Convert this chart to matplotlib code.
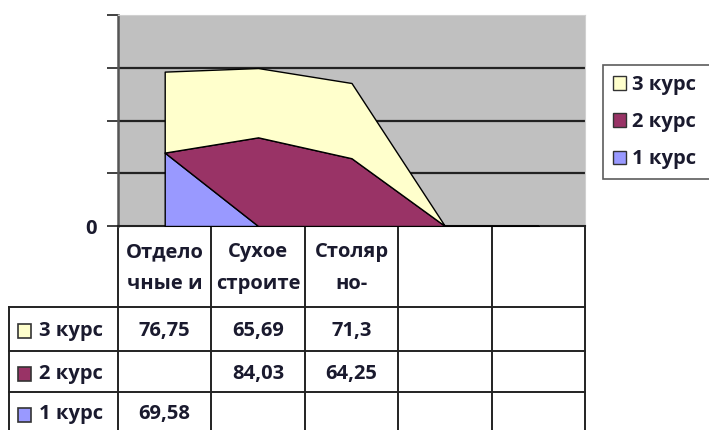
import matplotlib
matplotlib.use("Agg")
import matplotlib.pyplot as plt
from matplotlib.patches import Patch, Rectangle

# data
categories = ["Отдело\nчные и", "Сухое\nстроите", "Столяр\nно-", "", ""]
series_names = ["1 курс", "2 курс", "3 курс"]
kurs1 = [69.58, None, None, None, None]
kurs2 = [None, 84.03, 64.25, None, None]
kurs3 = [76.75, 65.69, 71.3, None, None]
colors = ["#9999FF", "#993366", "#FFFFCC"]

W, H = 709, 430
FONT = "Open Sans"
FS = 14.5
TXT_COLOR = "#1a1a2e"

def fmt(v):
    if v is None:
        return ""
    return f"{v:g}".replace(".", ",")

def main():
    fig = plt.figure(figsize=(W / 100, H / 100), dpi=100)

    # pixel layout of the chart area and table
    left, right = 118, 585
    top, zero = 15, 226
    ax = fig.add_axes([left / W, 1 - zero / H, (right - left) / W, (zero - top) / H])
    ax.set_facecolor("#C0C0C0")

    x = list(range(len(categories)))
    series = [kurs1, kurs2, kurs3]
    ys = [[0 if v is None else v for v in s] for s in series]
    ax.stackplot(x, ys, colors=colors, edgecolor="black", linewidth=1.0, zorder=3)

    ax.set_xlim(-0.5, len(categories) - 0.5)
    ax.set_ylim(0, 200)
    ax.set_yticks([0, 50, 100, 150, 200])
    ax.set_yticklabels(["0", "", "", "", ""], fontsize=FS, fontweight="bold",
                       fontfamily=FONT, color=TXT_COLOR)
    ax.tick_params(axis="y", direction="out", length=8, width=1.3, color="#333333", pad=7)
    ax.set_xticks([])
    for yv in [50, 100, 150]:
        ax.axhline(yv, color="#222222", linewidth=1.6, zorder=1)
    ax.spines["left"].set_color("#555555")
    ax.spines["left"].set_linewidth(1.8)
    for s in ["top", "right"]:
        ax.spines[s].set_color("#D0D0D0")
    ax.spines["bottom"].set_color("#222222")
    ax.spines["bottom"].set_linewidth(1.5)

    # data table under the chart, drawn in pixel coordinates
    t = fig.add_axes([0, 0, 1, 1], zorder=-1)
    t.set_xlim(0, W)
    t.set_ylim(H, 0)
    t.axis("off")

    n = len(categories)
    cw = (right - left) / n
    label_left = 9
    rows_y = [zero, 307, 351, 392, 433]
    lw = 1.4
    lc = "#222222"

    for i in range(n + 1):
        xx = left + i * cw
        t.plot([xx, xx], [zero, H], color=lc, lw=lw)
    t.plot([label_left, label_left], [rows_y[1], H], color=lc, lw=lw)
    for r in rows_y[1:]:
        t.plot([label_left, right], [r, r], color=lc, lw=lw)

    txt = dict(fontsize=FS, fontweight="bold", fontfamily=FONT, color=TXT_COLOR,
               ha="center", va="center")
    for i, c in enumerate(categories):
        t.text(left + (i + 0.5) * cw, 268, c, linespacing=1.75, **txt)

    order = [2, 1, 0]
    for k, si in enumerate(order):
        cy = (rows_y[k + 1] + rows_y[k + 2]) / 2 + 2
        t.add_patch(Rectangle((18, cy - 7), 13, 14, facecolor=colors[si],
                              edgecolor="#333333", lw=1.2))
        t.text(39, cy, series_names[si], fontsize=FS, fontweight="bold",
               fontfamily=FONT, color=TXT_COLOR, ha="left", va="center")
        for i, v in enumerate(series[si]):
            t.text(left + (i + 0.5) * cw, cy, fmt(v), **txt)

    handles = [Patch(facecolor=colors[i], edgecolor="#333333", label=series_names[i])
               for i in order]
    leg = fig.legend(handles=handles, loc="upper left",
                     bbox_to_anchor=(603 / W, 1 - 65 / H, 115 / W, 0.0),
                     mode="expand",
                     prop={"family": FONT, "weight": "bold", "size": FS},
                     frameon=True, fancybox=False, edgecolor="#333333",
                     handlelength=0.65, handleheight=0.65, handletextpad=0.3,
                     labelspacing=0.85, borderpad=0.5, borderaxespad=0)
    leg.get_frame().set_linewidth(1.2)
    for tx in leg.get_texts():
        tx.set_color(TXT_COLOR)

    fig.savefig("out.png", dpi=100)

if __name__ == "__main__":
    main()
